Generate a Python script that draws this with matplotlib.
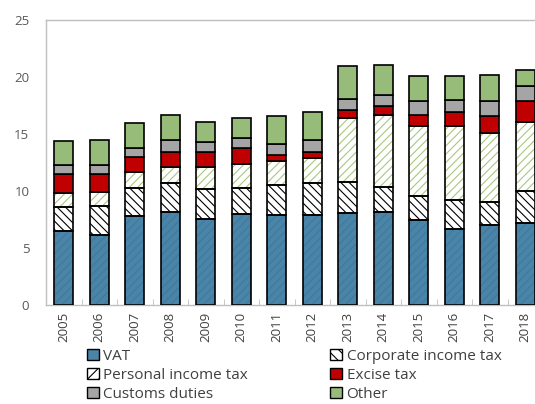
import matplotlib
matplotlib.use("Agg")
import matplotlib.pyplot as plt
import numpy as np
from matplotlib.patches import Patch

years = ["2005", "2006", "2007", "2008", "2009", "2010", "2011", "2012",
         "2013", "2014", "2015", "2016", "2017", "2018"]
vat      = [6.5, 6.15, 7.8, 8.2, 7.55, 8.0, 7.9, 7.9, 8.1, 8.2, 7.45, 6.7, 7.0, 7.2]
cit      = [2.1, 2.5, 2.5, 2.5, 2.6, 2.3, 2.65, 2.85, 2.7, 2.2, 2.1, 2.5, 2.0, 2.85]
pit      = [1.2, 1.3, 1.4, 1.4, 1.95, 2.05, 2.1, 2.15, 5.65, 6.3, 6.15, 6.5, 6.1, 6.0]
excise   = [1.7, 1.55, 1.3, 1.3, 1.3, 1.4, 0.55, 0.55, 0.7, 0.75, 1.0, 1.2, 1.5, 1.85]
customs  = [0.8, 0.75, 0.8, 1.1, 0.9, 0.9, 0.9, 1.0, 0.95, 0.95, 1.2, 1.1, 1.3, 1.3]
other    = [2.1, 2.2, 2.15, 2.2, 1.75, 1.75, 2.5, 2.5, 2.85, 2.65, 2.2, 2.1, 2.3, 1.45]
yticks = [0, 5, 10, 15, 20, 25]

plt.rcParams['font.family'] = ['Open Sans', 'DejaVu Sans']
plt.rcParams['hatch.linewidth'] = 0.8

fig = plt.figure(figsize=(5.35, 4.04), dpi=100)
ax = fig.add_axes([0.086, 0.245, 0.929, 0.705])

x = np.arange(len(years))
w = 0.53
series = [
    ("VAT", vat, "#4a85a8", "////", "#4079a0", None),
    ("Corporate income tax", cit, "white", "\\\\\\\\", "black", "\\\\\\"),
    ("Personal income tax", pit, "white", "////", "#a9c77e", "///"),
    ("Excise tax", excise, "#c00000", None, None, None),
    ("Customs duties", customs, "#a5a5a5", None, None, None),
    ("Other", other, "#97bb78", None, None, None),
]
bottom = np.zeros(len(years))
handles = []
for name, vals, fc, hatch, hc, lh in series:
    vals = np.array(vals)
    if hatch:
        ax.bar(x, vals, w, bottom=bottom, color=fc, hatch=hatch,
               edgecolor=hc, linewidth=0, zorder=2)
        ax.bar(x, vals, w, bottom=bottom, fill=False, edgecolor="black",
               linewidth=1.2, zorder=3)
    else:
        ax.bar(x, vals, w, bottom=bottom, color=fc, edgecolor="black",
               linewidth=1.2, zorder=3)
    bottom += vals
    handles.append(Patch(facecolor=fc, edgecolor="black", linewidth=1.0, hatch=lh))

ax.set_xlim(-0.5, len(years) - 0.5)
ax.set_ylim(0, 25)
ax.set_yticks(yticks)
ax.set_xticks(x)
ax.set_xticklabels(years, rotation=90)
ax.set_xticks(np.arange(len(years) + 1) - 0.5, minor=True)
ax.tick_params(axis='x', which='major', length=0, pad=5, labelsize=9.5, labelcolor="#404040")
ax.tick_params(axis='x', which='minor', length=4, direction='in', color="#bfbfbf")
ax.tick_params(axis='y', length=0, pad=12, labelsize=9.5, labelcolor="#595959")
for s in ["left", "bottom", "top"]:
    ax.spines[s].set_color("#bfbfbf")
    ax.spines[s].set_linewidth(1.0)
ax.spines["right"].set_visible(False)

names = [s[0] for s in series]
order = [0, 2, 4, 1, 3, 5]
leg = fig.legend([handles[i] for i in order], [names[i] for i in order],
                 loc="upper left", bbox_to_anchor=(0.163, 0.137), ncol=2,
                 frameon=False, fontsize=11, handlelength=0.75, handleheight=0.75,
                 handletextpad=0.3, columnspacing=5.4, labelspacing=0.27,
                 borderpad=0, borderaxespad=0)
for t in leg.get_texts():
    t.set_color("#404040")

fig.savefig("out.png", dpi=100)
